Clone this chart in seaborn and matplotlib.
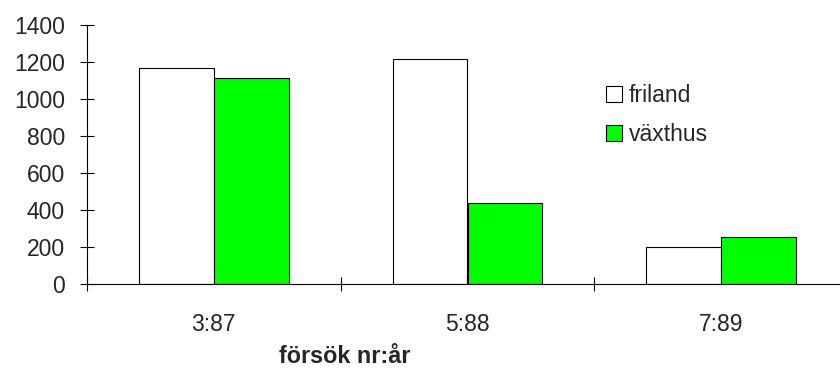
import pandas as pd
import seaborn as sns
import matplotlib.pyplot as plt
from matplotlib.ticker import FixedLocator

# data
categories = ["3:87", "5:88", "7:89"]
friland = [1166, 1215, 198]
vaxthus = [1112, 436, 252]
series_names = ["friland", "växthus"]
colors = ["#FFFFFF", "#00FF00"]

df = pd.DataFrame({
    "försök": categories * 2,
    "serie": [series_names[0]] * 3 + [series_names[1]] * 3,
    "värde": friland + vaxthus,
})

sns.set_theme(style="white")
plt.rcParams["font.family"] = ["Liberation Sans", "DejaVu Sans"]

fig = plt.figure(figsize=(8.4, 3.69), dpi=100)
ax = fig.add_axes([87 / 840, 85 / 369, 761 / 840, 259 / 369])

sns.barplot(
    data=df, x="försök", y="värde", hue="serie",
    palette=colors, saturation=1, width=0.59, gap=0,
    edgecolor="black", linewidth=0.8, ax=ax,
)

ax.set_xlim(-0.5, 2.5)
ax.set_ylim(0, 1400)
ax.set_yticks(range(0, 1401, 200))
ax.tick_params(axis="y", direction="inout", length=10, width=0.8, color="black",
               labelsize=16.5, pad=11, left=True)
ax.tick_params(axis="x", which="major", length=0, labelsize=16.5, pad=21)
ax.xaxis.set_minor_locator(FixedLocator([-0.5, 0.5, 1.5, 2.5]))
ax.tick_params(axis="x", which="minor", direction="inout", length=10, width=0.8,
               color="black", bottom=True)

for side in ["top", "right"]:
    ax.spines[side].set_visible(False)
for side in ["left", "bottom"]:
    ax.spines[side].set_color("black")
    ax.spines[side].set_linewidth(0.8)

ax.set_xlabel("")
ax.set_ylabel("")
fig.text(345 / 840, 1 / 369, "försök nr:år", ha="center", va="bottom",
         fontsize=16.8, fontweight="bold")

leg = ax.legend(
    loc="upper left", bbox_to_anchor=(606 / 840, 1 - 84 / 369),
    bbox_transform=fig.transFigure, frameon=False, fontsize=16.5,
    handlelength=0.7, handleheight=0.7, handletextpad=0.3,
    labelspacing=0.68, borderaxespad=0, borderpad=0,
)
for h in leg.legend_handles:
    h.set_edgecolor("black")
    h.set_linewidth(0.8)

fig.savefig("out.png", dpi=100)
